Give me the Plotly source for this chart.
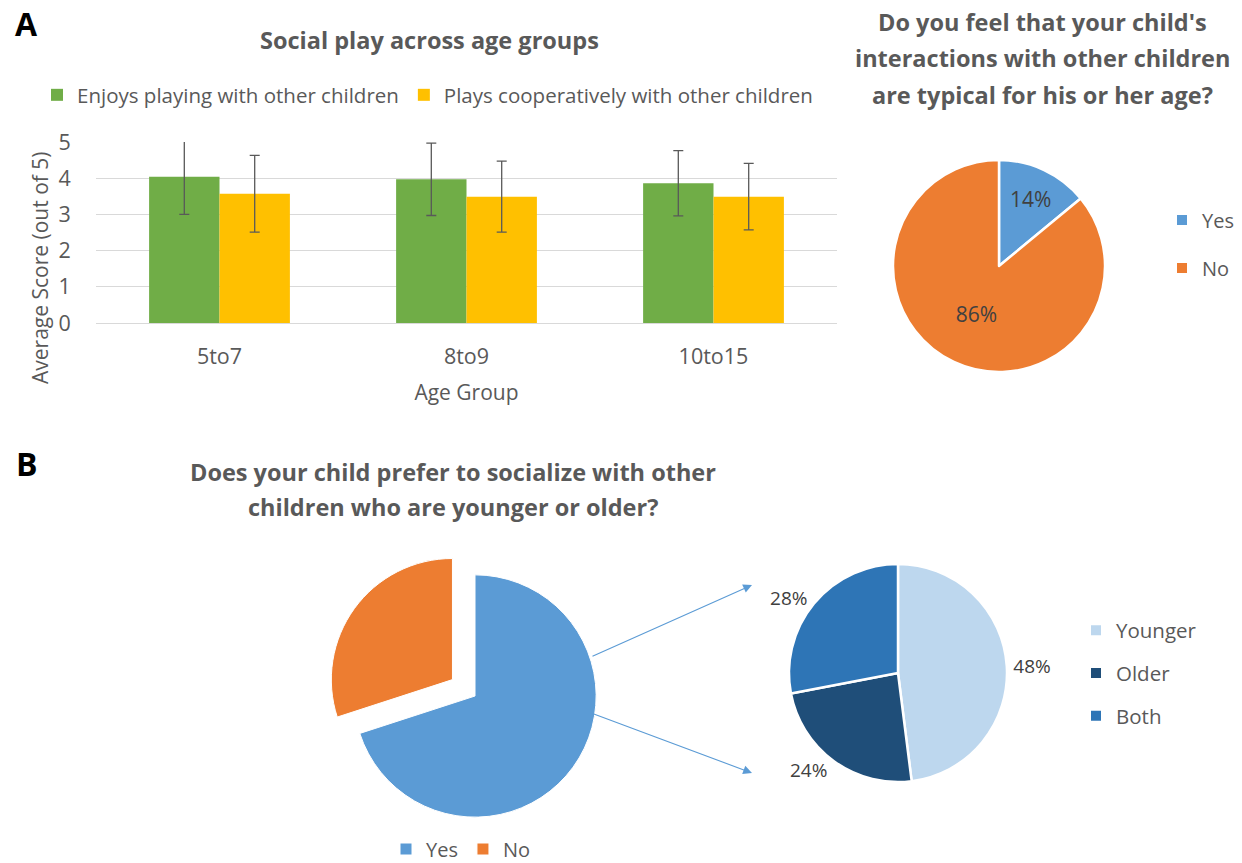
import plotly.graph_objects as go

# ---------------- data ----------------
age_groups = ["5to7", "8to9", "10to15"]
series_names = ["Enjoys playing with other children",
                "Plays cooperatively with other children"]
enjoys_mean = [4.04, 3.97, 3.86]
enjoys_err = [1.04, 1.00, 0.90]
coop_mean = [3.57, 3.49, 3.49]
coop_err = [1.06, 0.98, 0.92]

typical_labels = ["Yes", "No"]
typical_values = [14, 86]

prefer_labels = ["Yes", "No"]
prefer_values = [70, 30]

agepref_labels = ["Younger", "Older", "Both"]
agepref_values = [48, 24, 28]

# ---------------- style ----------------
W, H = 1242, 863
FONT = "Open Sans"
GRAY = "#595959"
DARK = "#404040"
GREEN = "#70AD47"
YELLOW = "#FFC000"
BLUE = "#5B9BD5"
ORANGE = "#ED7D31"
typical_colors = [BLUE, ORANGE]
prefer_colors = [BLUE, ORANGE]
agepref_colors = ["#BDD7EE", "#1F4E79", "#2E75B6"]
TITLE_SIZE = 23.5


def px(x):
    return x / W


def py(y):
    return 1 - y / H


fig = go.Figure()

# ---------------- bar chart ----------------
for name, vals, errs, col in [(series_names[0], enjoys_mean, enjoys_err, GREEN),
                              (series_names[1], coop_mean, coop_err, YELLOW)]:
    fig.add_trace(go.Bar(
        x=age_groups, y=vals, name=name, marker=dict(color=col, line=dict(width=0)),
        error_y=dict(type="data", array=errs, color=GRAY, thickness=1.3, width=5),
        legend="legend", hoverinfo="skip"))

# ---------------- pie A ----------------
fig.add_trace(go.Pie(
    labels=typical_labels, values=typical_values, sort=False, direction="clockwise",
    rotation=0, marker=dict(colors=typical_colors, line=dict(color="white", width=2.5)),
    texttemplate="%{percent:.0%}", textposition="inside", insidetextorientation="horizontal",
    insidetextfont=dict(family=FONT, size=21, color=DARK),
    domain=dict(x=[px(893), px(1105)], y=[py(372), py(160)]),
    showlegend=False, hoverinfo="skip"))

# ---------------- pie B1 ----------------
fig.add_trace(go.Pie(
    labels=prefer_labels, values=prefer_values, sort=False, direction="clockwise",
    rotation=0, pull=[0, 0.23],
    marker=dict(colors=prefer_colors, line=dict(color="white", width=1)),
    textinfo="none", legend="legend3",
    domain=dict(x=[px(326), px(624)], y=[py(845), py(547)]),
    hoverinfo="skip"))

# ---------------- pie B2 ----------------
fig.add_trace(go.Pie(
    labels=agepref_labels, values=agepref_values, sort=False, direction="clockwise",
    rotation=0, marker=dict(colors=agepref_colors, line=dict(color="white", width=2.5)),
    texttemplate="%{percent:.0%}", textposition="outside",
    outsidetextfont=dict(family=FONT, size=19, color=DARK),
    domain=dict(x=[px(789), px(1007)], y=[py(782), py(564)]),
    showlegend=False, hoverinfo="skip"))

# legend entries for pies A and B2 (spaced like the original)
for i, (lab, col) in enumerate(zip(typical_labels, typical_colors)):
    fig.add_trace(go.Scatter(x=[None], y=[None], mode="markers", name=lab,
                             marker=dict(symbol="square", size=10, color=col),
                             legend="legend2", legendgroup=f"t{i}", hoverinfo="skip"))
for i, (lab, col) in enumerate(zip(agepref_labels, agepref_colors)):
    fig.add_trace(go.Scatter(x=[None], y=[None], mode="markers", name=lab,
                             marker=dict(symbol="square", size=10, color=col),
                             legend="legend4", legendgroup=f"a{i}", hoverinfo="skip"))

# ---------------- annotations ----------------
ann = []
ann.append(dict(text="<b>A</b>", x=px(26), y=py(24), font=dict(size=32, color="black", family=FONT)))
ann.append(dict(text="<b>B</b>", x=px(27), y=py(463), font=dict(size=32, color="black", family=FONT)))
ann.append(dict(text="<b>Social play across age groups</b>", x=px(429), y=py(40),
                font=dict(size=TITLE_SIZE, color=GRAY, family=FONT)))
for yy, line in zip([22, 58, 95], ["Do you feel that your child's",
                                   "interactions with other children",
                                   "are typical for his or her age?"]):
    ann.append(dict(text=f"<b>{line}</b>", x=px(1042), y=py(yy),
                    font=dict(size=TITLE_SIZE, color=GRAY, family=FONT)))
for yy, line in zip([472, 507], ["Does your child prefer to socialize with other",
                                 "children who are younger or older?"]):
    ann.append(dict(text=f"<b>{line}</b>", x=px(453), y=py(yy),
                    font=dict(size=TITLE_SIZE, color=GRAY, family=FONT)))
ann.append(dict(text="Average Score (out of 5)", x=px(40), y=py(268), textangle=-90,
                font=dict(size=21, color=GRAY, family=FONT)))
for a in ann:
    a.update(xref="paper", yref="paper", showarrow=False, xanchor="center", yanchor="middle")

arrows = [dict(x=px(752), y=py(585), ax=591 - 752, ay=657 - 585),
          dict(x=px(752), y=py(773), ax=591 - 752, ay=713 - 773)]
for a in arrows:
    a.update(xref="paper", yref="paper", text="", showarrow=True, arrowhead=2,
             arrowsize=1.6, arrowwidth=1.1, arrowcolor=BLUE, standoff=0, startstandoff=0)
    ann.append(a)

# ---------------- layout ----------------
fig.update_layout(
    width=W, height=H, margin=dict(l=0, r=0, t=0, b=0, autoexpand=False),
    paper_bgcolor="white", plot_bgcolor="white",
    font=dict(family=FONT, color=GRAY, size=18),
    barmode="group", bargap=0.43, bargroupgap=0,
    annotations=ann, hovermode=False,
    xaxis=dict(domain=[px(96), px(837)], showgrid=False, showline=False, zeroline=False,
               ticks="outside", ticklen=14, tickcolor="rgba(0,0,0,0)",
               tickfont=dict(size=21.5, color=GRAY),
               title=dict(text="Age Group", font=dict(size=21, color=GRAY), standoff=16)),
    yaxis=dict(domain=[py(323), py(142)], range=[0, 5], dtick=1, showgrid=True,
               gridcolor="#D9D9D9", gridwidth=1, zeroline=True, zerolinecolor="#D9D9D9",
               zerolinewidth=1, showline=False,
               ticks="outside", ticklen=20, tickcolor="rgba(0,0,0,0)",
               tickfont=dict(size=21.5, color=GRAY)),
    legend=dict(orientation="h", x=px(37), y=py(95), xanchor="left", yanchor="middle",
                font=dict(size=20.5, color=GRAY), bgcolor="rgba(0,0,0,0)"),
    legend2=dict(x=px(1162), y=py(244), xanchor="left", yanchor="middle",
                 font=dict(size=20, color=GRAY), tracegroupgap=19, bgcolor="rgba(0,0,0,0)"),
    legend3=dict(orientation="h", x=px(461), y=py(849), xanchor="center", yanchor="middle",
                 font=dict(size=20, color=GRAY), bgcolor="rgba(0,0,0,0)"),
    legend4=dict(x=px(1076), y=py(673), xanchor="left", yanchor="middle",
                 font=dict(size=20.5, color=GRAY), tracegroupgap=13, bgcolor="rgba(0,0,0,0)"),
)

fig.write_html("out.html",
               config={"displayModeBar": False, "staticPlot": True},
               post_script="document.body.style.margin='0';document.body.style.overflow='hidden';")
